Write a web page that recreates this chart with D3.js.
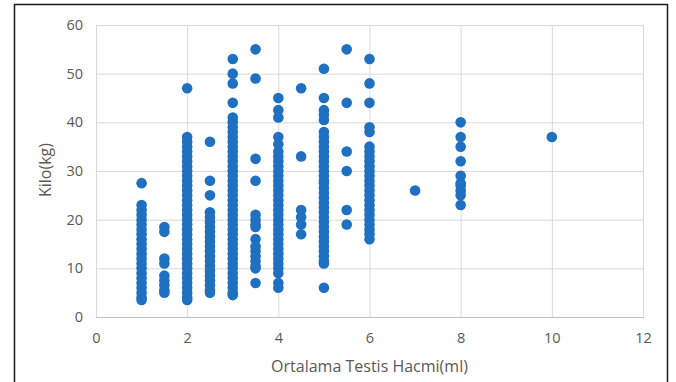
<!DOCTYPE html>
<html>
<head>
<meta charset="utf-8">
<script src="https://cdn.jsdelivr.net/npm/d3@7"></script>
<style>
    body { margin: 0; background: #fff; }
    svg { display: block; font-family: "Open Sans", sans-serif; }
</style>
</head>
<body>
<div id="chart"></div>
<script>
// Tick labels
const xTicks = [0, 2, 4, 6, 8, 10, 12];
const yTicks = [0, 10, 20, 30, 40, 50, 60];

// Kilo values
const kilo1 = [27.5, 23, 22, 21, 20, 19, 18, 17, 16, 15, 14, 13, 12, 11, 10, 9, 8, 7, 6, 5, 4, 3.5];
const kilo15 = [18.5, 17.5, 12, 11, 8.5, 7.5, 6.5, 5.5, 5];
const kilo2 = [47, 37, 36, 35, 34, 33, 32, 31, 30, 29, 28, 27, 26, 25, 24, 23, 22, 21, 20, 19, 18, 17, 16, 15, 14, 13, 12, 11, 10, 9, 8, 7, 6, 5, 4, 3.5];
const kilo25 = [36, 28, 25, 21.5, 20.5, 19.5, 18.5, 17.5, 16.5, 15.5, 14.5, 13.5, 12.5, 11.5, 10.5, 9.5, 8.5, 7.5, 6.5, 5.5, 5];
const kilo3 = [53, 50, 48, 44, 41, 40, 39, 38, 37, 36, 35, 34, 33, 32, 31, 30, 29, 28, 27, 26, 25, 24, 23, 22, 21, 20, 19, 18, 17, 16, 15, 14, 13, 12, 11, 10, 9, 8, 7, 6, 5, 4.5];
const kilo35 = [55, 49, 32.5, 28, 21, 20, 19, 18.5, 16, 14.5, 13.5, 12.5, 11.5, 10.5, 10, 7];
const kilo4 = [45, 42.5, 41, 37, 35.5, 34, 33, 32, 31, 30, 29, 28, 27, 26, 25, 24, 23, 22, 21, 20, 19, 18, 17, 16, 15, 14, 13, 12, 11, 10, 9, 7, 6];
const kilo45 = [47, 33, 22, 20.5, 19, 17];
const kilo5 = [51, 45, 42.5, 41.5, 40.5, 38, 37, 36, 35, 34, 33, 32, 31, 30, 29, 28, 27.5, 26.5, 25.5, 24.5, 23.5, 22.5, 21.5, 20.5, 19.5, 18.5, 17.5, 16.5, 15.5, 14.5, 13.5, 12.5, 11.5, 11, 6];
const kilo55 = [55, 44, 34, 30, 22, 19];
const kilo6 = [53, 48, 44, 39, 38, 35, 34, 33, 32, 31, 30, 29, 28, 27, 26, 25, 24, 23, 22, 21, 20, 19, 18, 17, 16];
const kilo7 = [26];
const kilo8 = [40, 37, 35, 32, 29, 27.5, 27, 26, 25, 23];
const kilo10 = [37];

const hacimler = [1, 1.5, 2, 2.5, 3, 3.5, 4, 4.5, 5, 5.5, 6, 7, 8, 10];
const kilolar = [kilo1, kilo15, kilo2, kilo25, kilo3, kilo35, kilo4, kilo45, kilo5, kilo55, kilo6, kilo7, kilo8, kilo10];

// flatten to points
const points = [];
hacimler.forEach((h, i) => {
    kilolar[i].forEach(k => points.push({ hacim: h, kilo: k }));
});

function drawScatter() {
    const W = 676;
    const H = 382;
    const margin = { top: 25, right: 33, bottom: 65, left: 96 };
    const width = W - margin.left - margin.right;
    const height = H - margin.top - margin.bottom;

    const svg = d3.select("#chart")
        .append("svg")
        .attr("width", W)
        .attr("height", H);

    // outer frame
    svg.append("rect")
        .attr("x", 14.5)
        .attr("y", 4.5)
        .attr("width", 653)
        .attr("height", 400)
        .attr("fill", "none")
        .attr("stroke", "#1a1a1a")
        .attr("stroke-width", 1.5);

    const g = svg.append("g")
        .attr("transform", `translate(${margin.left},${margin.top})`);

    const x = d3.scaleLinear().domain([0, 12]).range([0, width]);
    const y = d3.scaleLinear().domain([0, 60]).range([height, 0]);

    // horizontal grid + y labels
    const yAxis = g.append("g")
        .call(d3.axisLeft(y).tickValues(yTicks).tickSize(-width).tickPadding(13));
    yAxis.select(".domain").attr("stroke", "#d9d9d9");
    yAxis.selectAll(".tick line").attr("stroke", "#d9d9d9");

    // vertical grid + x labels
    const xAxis = g.append("g")
        .attr("transform", `translate(0,${height})`)
        .call(d3.axisBottom(x).tickValues(xTicks).tickSize(-height).tickPadding(16));
    xAxis.select(".domain").attr("stroke", "#bfbfbf");
    xAxis.selectAll(".tick line").attr("stroke", "#d9d9d9");

    g.selectAll(".tick text")
        .attr("fill", "#595959")
        .style("font-size", "14.5px")
        .style("font-family", "'Open Sans', sans-serif");

    // points
    g.selectAll("circle")
        .data(points)
        .enter().append("circle")
        .attr("cx", d => x(d.hacim))
        .attr("cy", d => y(d.kilo))
        .attr("r", 5.3)
        .attr("fill", "#1f70c1");

    // axis titles
    svg.append("text")
        .attr("x", margin.left + width / 2)
        .attr("y", 372)
        .attr("text-anchor", "middle")
        .attr("fill", "#595959")
        .style("font-size", "16px")
        .text("Ortalama Testis Hacmi(ml)");

    svg.append("text")
        .attr("transform", "translate(51,170) rotate(-90)")
        .attr("text-anchor", "middle")
        .attr("fill", "#595959")
        .style("font-size", "16px")
        .text("Kilo(kg)");
}

drawScatter();
</script>
</body>
</html>
